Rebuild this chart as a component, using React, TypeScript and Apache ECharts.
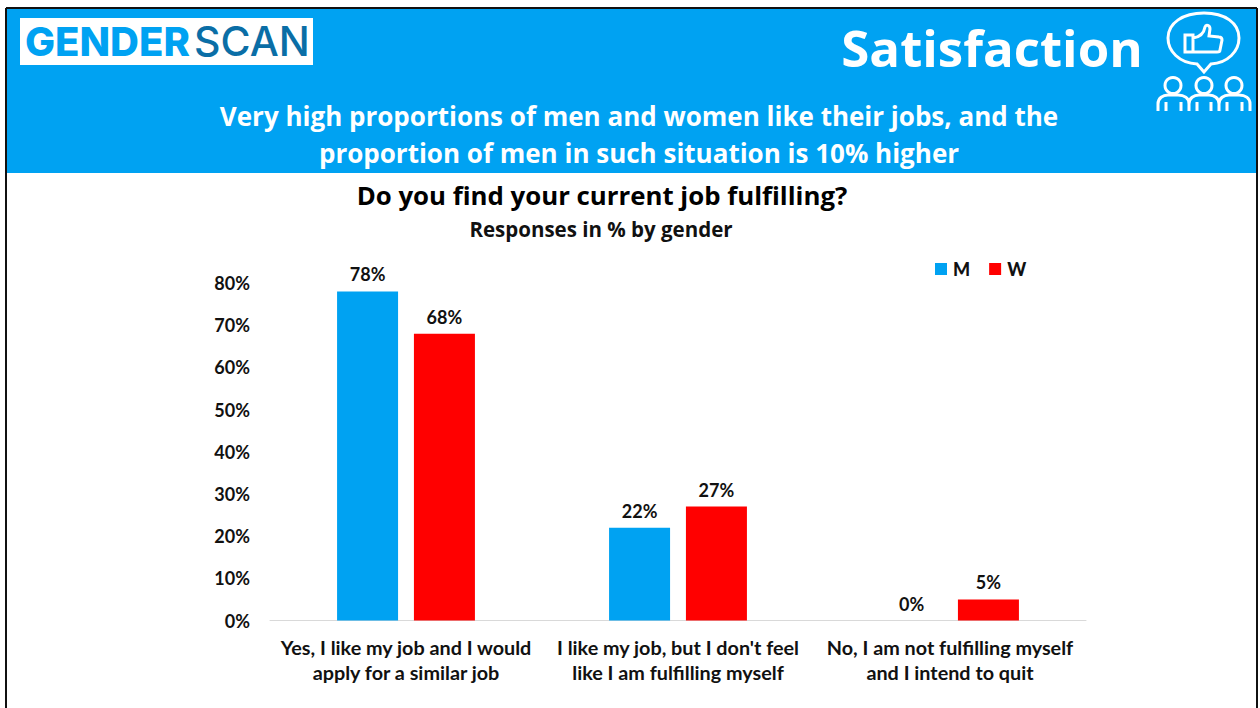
import React, { useEffect, useRef } from "react";
import * as echarts from "echarts";

const categories = [
  "Yes, I like my job and I would\napply for a similar job",
  "I like my job, but I don't feel\nlike I am fulfilling myself",
  "No, I am not fulfilling myself\nand I intend to quit",
];
const menValues = [78, 22, 0];
const womenValues = [68, 27, 5];
const headlineLines = [
  "Very high proportions of men and women like their jobs, and the",
  "proportion of men in such situation is 10% higher",
];

const BLUE = "#00a2f2";
const RED = "#ff0000";
const INK = "#111111";

// Outline icon: a speech bubble holding a thumbs-up above three people.
const BUBBLE =
  "M1204 72 L1197 64 C1179 63 1168 51 1168 38 C1168 23 1183 13 1204 13 C1225 13 1239 23 1239 38 C1239 51 1228 63 1211 64 Z";
const THUMB =
  "M1185 35 L1193 35 L1193 52 L1185 52 Z M1193 38 C1200 37 1204 33 1205 27 C1206 24 1210 25 1210 29 L1209 36 L1219 37 C1221 37 1222 38 1222 40 L1220 50 C1220 51 1219 52 1217 52 L1193 52";
const PEOPLE =
  "M1158 111 L1158 104 C1158 98 1163 95 1168 95 L1178 95 C1184 95 1189 98 1189 104 C1189 98 1194 95 1199 95 L1209 95 C1214 95 1219 98 1219 104 C1219 98 1224 95 1229 95 L1239 95 C1245 95 1250 98 1250 104 L1250 111 M1166 111 L1166 102 M1181 111 L1181 102 M1189 111 L1189 104 M1197 111 L1197 102 M1211 111 L1211 102 M1219 111 L1219 104 M1227 111 L1227 102 M1242 111 L1242 102";

echarts.graphic.registerShape("satBubble", echarts.graphic.extendPath(BUBBLE, {}));
echarts.graphic.registerShape("satThumb", echarts.graphic.extendPath(THUMB, {}));
echarts.graphic.registerShape("satPeople", echarts.graphic.extendPath(PEOPLE, {}));

const iconStroke = { fill: "none", stroke: "#ffffff", lineWidth: 3 };

export default function App() {
  const ref = useRef<HTMLDivElement>(null);

  useEffect(() => {
    const chart = echarts.init(ref.current!, null, { renderer: "svg" });
    chart.setOption({
      animation: false,
      backgroundColor: "#ffffff",
      grid: { left: 270, right: 174, top: 283, bottom: 87.5, containLabel: false },
      legend: {
        left: 930,
        top: 255,
        itemWidth: 12,
        itemHeight: 12,
        itemGap: 19,
        icon: "rect",
        data: ["M", "W"],
        textStyle: { fontFamily: "Lato", fontWeight: 900, fontSize: 18, color: INK, padding: [0, 0, 0, 1] },
      },
      xAxis: {
        type: "category",
        data: categories,
        axisTick: { show: false },
        axisLine: { lineStyle: { color: "#d9d9d9", width: 1 } },
        axisLabel: {
          interval: 0,
          margin: 14,
          fontFamily: "Lato",
          fontWeight: "bold",
          fontSize: 19.8,
          lineHeight: 25,
          color: INK,
        },
      },
      yAxis: {
        type: "value",
        min: 0,
        max: 80,
        interval: 10,
        splitLine: { show: false },
        axisLine: { show: false },
        axisTick: { show: false },
        axisLabel: {
          margin: 20,
          formatter: "{value}%",
          fontFamily: "Lato",
          fontWeight: "bold",
          fontSize: 18,
          color: INK,
        },
      },
      series: [
        { name: "M", data: menValues, color: BLUE },
        { name: "W", data: womenValues, color: RED },
      ].map((s) => ({
        ...s,
        type: "bar",
        barWidth: 61,
        barGap: "26%",
        label: {
          show: true,
          position: "top",
          distance: 8,
          formatter: "{c}%",
          fontFamily: "Lato",
          fontWeight: "bold",
          fontSize: 18,
          color: INK,
        },
      })),
      graphic: [
        {
          type: "group",
          silent: true,
          z: 10,
          children: [
            { type: "rect", shape: { x: 6, y: 8, width: 1251, height: 165 }, style: { fill: BLUE } },
            { type: "line", shape: { x1: 6, y1: 8, x2: 1257, y2: 8 }, style: { stroke: "#111111", lineWidth: 2 } },
            { type: "line", shape: { x1: 6, y1: 8, x2: 6, y2: 708 }, style: { stroke: "#111111", lineWidth: 2 } },
            { type: "line", shape: { x1: 1257, y1: 8, x2: 1257, y2: 708 }, style: { stroke: "#111111", lineWidth: 2 } },
            { type: "rect", shape: { x: 20, y: 18, width: 293, height: 47 }, style: { fill: "#ffffff" } },
            {
              type: "text", x: 25, y: 41,
              style: { text: "GENDER", fontFamily: "Inter", fontWeight: 800, fontSize: 40, fill: "#00a2f2", verticalAlign: "middle" },
            },
            {
              type: "text", x: 194, y: 41,
              style: { text: "SCAN", fontFamily: "Inter", fontWeight: 500, fontSize: 41, fill: "#0a6ea6", verticalAlign: "middle" },
            },
            {
              type: "text", x: 992, y: 47,
              style: { text: "Satisfaction", fontFamily: "Open Sans", fontWeight: "bold", fontSize: 51, fill: "#ffffff", align: "center", verticalAlign: "middle" },
            },
            ...headlineLines.map((line, i) => ({
              type: "text", x: 639, y: 116 + i * 37,
              style: { text: line, fontFamily: "Open Sans", fontWeight: "bold", fontSize: 26, fill: "#ffffff", align: "center", verticalAlign: "middle" },
            })),
            {
              type: "text", x: 602, y: 195,
              style: { text: "Do you find your current job fulfilling?", fontFamily: "Open Sans", fontWeight: "bold", fontSize: 25.8, fill: "#000000", align: "center", verticalAlign: "middle" },
            },
            {
              type: "text", x: 601, y: 229,
              style: { text: "Responses in % by gender", fontFamily: "Open Sans", fontWeight: "bold", fontSize: 20.5, fill: "#111111", align: "center", verticalAlign: "middle" },
            },
            { type: "satBubble", style: iconStroke },
            { type: "satThumb", style: iconStroke },
            { type: "satPeople", style: iconStroke },
            ...[1173, 1204, 1234].map((cx) => ({
              type: "circle", shape: { cx, cy: 85.5, r: 8 }, style: iconStroke,
            })),
          ],
        },
      ],
    });
    return () => chart.dispose();
  }, []);

  return <div ref={ref} style={{ position: "absolute", left: 0, top: 0, width: 1260, height: 708 }} />;
}
